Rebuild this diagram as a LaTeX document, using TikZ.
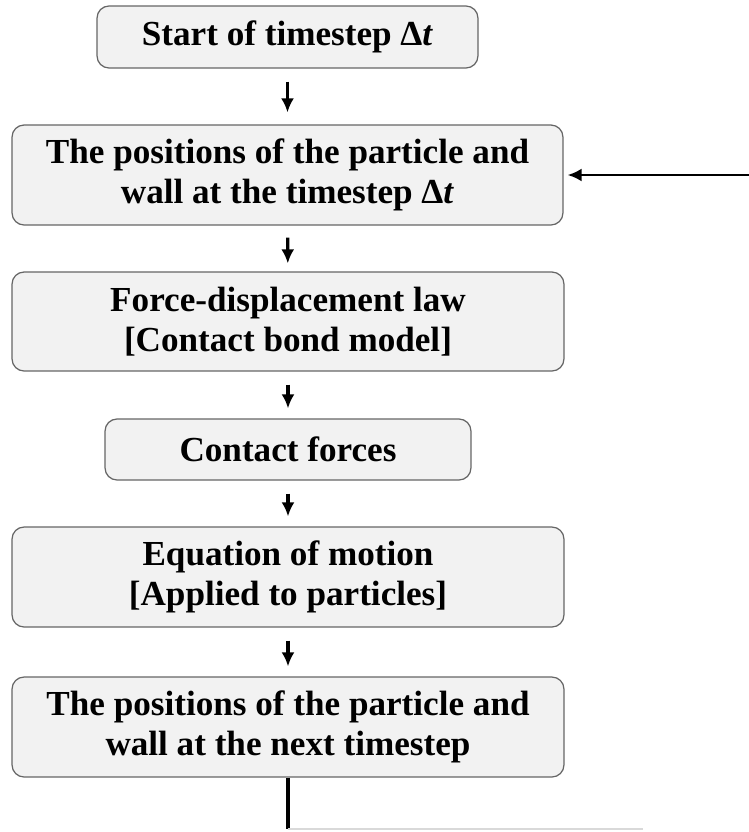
\documentclass[tikz,border=0pt]{standalone}
\usepackage{fontspec}
\setmainfont{Liberation Serif}
\usetikzlibrary{arrows.meta}
\newcommand{\dt}{Δ\textit{t}}

\tikzset{
  stepbox/.style={draw=black!60, line width=0.7pt, fill=black!5, rounded corners=0.24cm,
    align=center, inner sep=0pt, font=\fontsize{20}{22.7}\selectfont\bfseries},
  flow/.style={line width=1.8pt, -{Latex[length=0.28cm,width=0.26cm]}},
}

\begin{document}
\begin{tikzpicture}[x=0.02cm,y=-0.02cm]
    \useasboundingbox (0,0) rectangle (749,832);
    \node[stepbox, minimum width=7.62cm, minimum height=1.24cm] (start) at (287.5,37) {Start of timestep \dt};
    \node[stepbox, minimum width=11.02cm, minimum height=2.0cm] (pos) at (287.5,175)
      {The positions of the particle and\\ wall at the timestep \dt};
    \node[stepbox, minimum width=11.04cm, minimum height=1.98cm] (law) at (288,321.5)
      {Force-displacement law\\ {[Contact bond model]}};
    \node[stepbox, minimum width=7.32cm, minimum height=1.22cm] (force) at (288,449.5) {Contact forces};
    \node[stepbox, minimum width=11.04cm, minimum height=2.0cm] (motion) at (288,577)
      {Equation of motion\\ {[Applied to particles]}};
    \node[stepbox, minimum width=11.04cm, minimum height=2.0cm] (next) at (288,727)
      {The positions of the particle and\\ wall at the next timestep};
    \draw[flow, shorten <=0.26cm, shorten >=0.24cm] (start) to (pos);
    \draw[flow, shorten <=0.24cm, shorten >=0.16cm] (pos) to (law);
    \draw[flow, shorten <=0.26cm, shorten >=0.2cm] (law) to (force);
    \draw[flow, shorten <=0.26cm, shorten >=0.2cm] (force) to (motion);
    \draw[flow, shorten <=0.26cm, shorten >=0.2cm] (motion) to (next);
    \coordinate (loopin) at (749,175);
    \draw[flow, line width=1.6pt, shorten >=0.08cm] (loopin) to (pos);
    \coordinate (loopdown) at (288,829);
    \coordinate (loopright) at (643,829);
    \draw[line width=1.8pt] (next) to (loopdown);
    \draw[black!15, line width=1pt] (loopdown) to (loopright);
  \end{tikzpicture}
\end{document}
